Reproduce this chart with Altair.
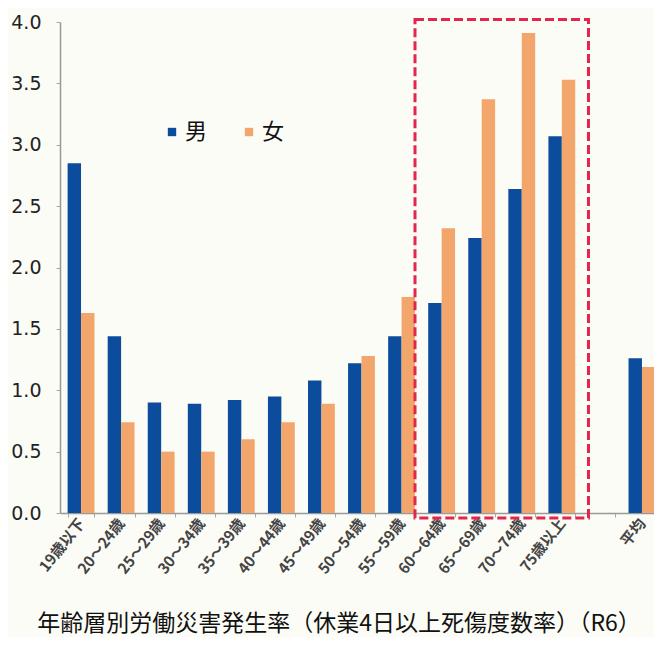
import altair as alt
import pandas as pd

categories = ["19歳以下", "20～24歳", "25～29歳", "30～34歳", "35～39歳", "40～44歳",
              "45～49歳", "50～54歳", "55～59歳", "60～64歳", "65～69歳", "70～74歳",
              "75歳以上", "平均"]
male = [2.85, 1.44, 0.90, 0.89, 0.92, 0.95, 1.08, 1.22, 1.44, 1.71, 2.24, 2.64, 3.07, 1.26]
female = [1.63, 0.74, 0.50, 0.50, 0.60, 0.74, 0.89, 1.28, 1.76, 2.32, 3.37, 3.91, 3.53, 1.19]
series = ["男", "女"]
colors = ["#0b4c9c", "#f2a66c"]
y_ticks = [0.0, 0.5, 1.0, 1.5, 2.0, 2.5, 3.0, 3.5, 4.0]
axis_domain = categories[:13] + [" "] + categories[13:]

# highlighted range (60-64 .. 75+), drawn from the band edges around it
box_start = ["55～59歳"]
box_end = [" "]
box_top = [4.02]
box_bottom = [-0.04]

title_text = "年齢層別労働災害発生率（休業4日以上死傷度数率）（R6）"

rows = []
for c, m, f in zip(categories, male, female):
    rows.append({"cat": c, "series": series[0], "value": m})
    rows.append({"cat": c, "series": series[1], "value": f})
df = pd.DataFrame(rows)
box_df = pd.DataFrame({"start": box_start, "end": box_end, "top": box_top, "bottom": box_bottom})

jp = "Noto Sans CJK JP"

xscale = alt.Scale(domain=axis_domain, range=[0, 603], paddingInner=0.33, paddingOuter=0.19)

bars = alt.Chart(df).mark_bar().encode(
    x=alt.X("cat:N", scale=xscale, sort=axis_domain, title=None,
            axis=alt.Axis(title=None, labelAngle=-52, labelFont=jp, labelFontSize=15,
                          labelFontWeight="bold", labelColor="#444", labelPadding=3,
                          tickBand="extent", tickSize=4, tickColor="#aaa",
                          domainColor="#999", domainWidth=1.5, grid=False)),
    xOffset=alt.XOffset("series:N", sort=series,
                        scale=alt.Scale(domain=series, paddingInner=0, paddingOuter=0)),
    y=alt.Y("value:Q", scale=alt.Scale(domain=[0, 4], nice=False, zero=True), title=None,
            axis=alt.Axis(title=None, values=y_ticks, format=".1f", labelFont="DejaVu Sans",
                          labelFontSize=19, labelColor="#222", labelPadding=15,
                          tickSize=4, tickColor="#aaa", domainColor="#999",
                          domainWidth=1.5, grid=False)),
    color=alt.Color("series:N", sort=series,
                    scale=alt.Scale(domain=series, range=colors),
                    legend=alt.Legend(title=None, orient="none", legendX=101, legendY=99,
                                      direction="horizontal", symbolType="square",
                                      symbolSize=70, symbolStrokeWidth=0,
                                      labelFont=jp, labelFontSize=22, labelColor="#111",
                                      labelOffset=2, columnPadding=30)),
)

box = alt.Chart(box_df).mark_rect(fillOpacity=0, stroke="#e2264e", strokeWidth=3,
                                  strokeDash=[9, 4]).encode(
    x=alt.X("start:N", bandPosition=1, title=None),
    x2=alt.X2("end", bandPosition=0),
    y=alt.Y("top:Q", title=None),
    y2=alt.Y2("bottom"),
)

chart = alt.layer(bars, box).properties(
    width=594,
    height=491,
    background="#fcfcf6",
    padding={"left": 52, "top": 14, "right": 0, "bottom": 124},
    autosize=alt.AutoSizeParams(type="none"),
    title=alt.Title(text=title_text, orient="bottom", frame="group", offset=37, dx=-18,
                    font=jp, fontSize=23, fontWeight="normal", color="#111",
                    anchor="middle"),
).configure_view(strokeWidth=0)

chart.save("out.html", embed_options={"renderer": "svg", "actions": False})
